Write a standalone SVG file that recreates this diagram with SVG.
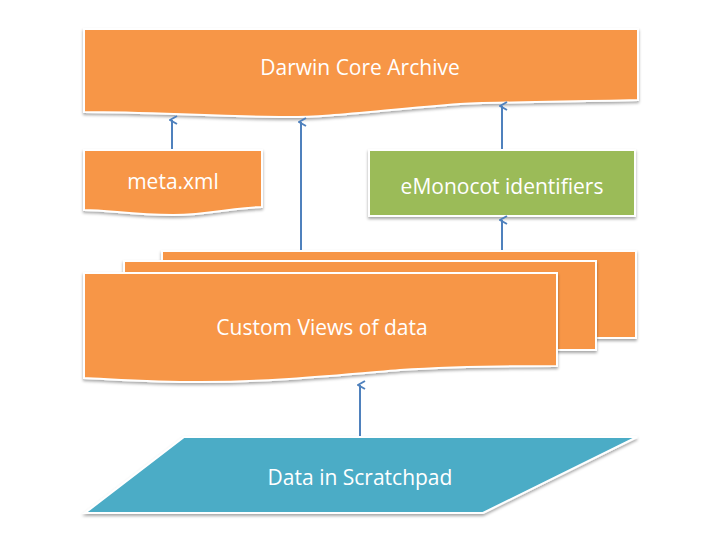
<svg xmlns="http://www.w3.org/2000/svg" width="720" height="540" viewBox="0 0 720 540">
<defs>
<filter id="sh" x="-5%" y="-5%" width="110%" height="115%">
<feDropShadow dx="0" dy="2" stdDeviation="1.5" flood-color="#000" flood-opacity="0.35"/>
</filter>
<marker id="ah" markerWidth="10" markerHeight="10" refX="5" refY="3" orient="auto-start-reverse" markerUnits="userSpaceOnUse" viewBox="0 0 10 10">
<path d="M1,8 L5,1 L9,8" fill="none" stroke="#4F81BD" stroke-width="2"/>
</marker>
</defs>
<style>
.or{fill:#F79646;stroke:#fff;stroke-width:2;filter:url(#sh)}
.gr{fill:#9BBB59;stroke:#fff;stroke-width:2;filter:url(#sh)}
.bl{fill:#4BACC6;stroke:#fff;stroke-width:2;filter:url(#sh)}
.t{font-family:"Open Sans","Liberation Sans",sans-serif;font-size:21px;fill:#fff;text-anchor:middle}
.c{stroke:#4F81BD;stroke-width:2;fill:none}
</style>
<rect width="720" height="540" fill="#fff"/>
<g id="dwca">
<path class="or" d="M84,29 H638 V100 C560,102 500,102 460,104 C380,110 330,118 280,117 C200,116 150,112 84,112 Z"/>
<text class="t" x="360" y="75">Darwin Core Archive</text>
</g>
<g id="meta">
<path class="or" d="M84,150 H262 V207 C230,208 210,215 173,215 C130,215 110,210 84,210 Z"/>
<text class="t" x="173" y="189">meta.xml</text>
</g>
<g id="emonocot">
<rect class="gr" x="369" y="150" width="266" height="66"/>
<text class="t" x="502" y="194">eMonocot identifiers</text>
</g>
<g id="views">
<rect class="or" x="162" y="251" width="474" height="87"/>
<rect class="or" x="124" y="261" width="472" height="89"/>
<path class="or" d="M84,273 H557 V366 C480,366 430,368 400,370 C330,376 270,382 200,382 C150,382 110,379 84,378 Z"/>
<text class="t" x="322" y="335">Custom Views of data</text>
</g>
<g id="scratchpad">
<path class="bl" d="M184,437 H637 L483,513 H85 Z"/>
<text class="t" x="360" y="485">Data in Scratchpad</text>
</g>
<g id="connectors">
<line class="c" x1="172" y1="149" x2="172" y2="120" marker-end="url(#ah)"/>
<line class="c" x1="301" y1="250" x2="301" y2="122" marker-end="url(#ah)"/>
<line class="c" x1="502" y1="149" x2="502" y2="106" marker-end="url(#ah)"/>
<line class="c" x1="502" y1="250" x2="502" y2="220" marker-end="url(#ah)"/>
<line class="c" x1="360" y1="436" x2="360" y2="385" marker-end="url(#ah)"/>
</g>
</svg>
